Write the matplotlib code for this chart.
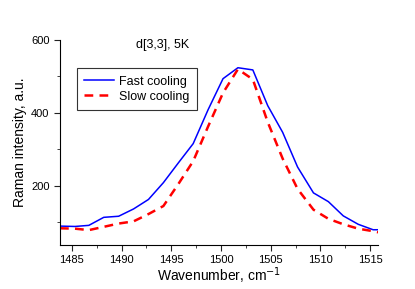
import numpy as np
import matplotlib.pyplot as plt
from matplotlib.ticker import MultipleLocator

plt.rcParams['font.family'] = ['Liberation Sans', 'DejaVu Sans']

# donnees
wavenumber = [1483.8, 1485.3, 1486.7, 1488.2, 1489.7, 1491.2, 1492.7, 1494.2,
              1495.7, 1497.2, 1498.7, 1500.2, 1501.7, 1503.2, 1504.7, 1506.2,
              1507.7, 1509.3, 1510.8, 1512.3, 1513.8, 1515.3, 1515.8]
fast_cooling = [90, 89, 92, 114, 117, 137, 163, 209, 263, 316, 409, 494, 524,
                518, 420, 347, 252, 181, 157, 118, 95, 80, 80]
slow_cooling = [84, 83, 79, 88, 97, 103, 123, 145, 205, 268, 363, 455, 520,
                492, 375, 275, 192, 135, 110, 95, 83, 76, 73]

fig = plt.figure(figsize=(4.15, 2.89), dpi=100)
ax = fig.add_axes([0.1446, 0.152, 0.7664, 0.7096])

ax.plot(wavenumber, fast_cooling, color='#0000ff', lw=1.1, label='Fast cooling')
ax.plot(wavenumber, slow_cooling, color='#ff0000', lw=1.8, ls=(0, (3.5, 2.5)),
        label='Slow cooling')

ax.set_xlim(1483.8, 1515.8)
ax.set_ylim(38, 600)
ax.xaxis.set_major_locator(MultipleLocator(5))
ax.xaxis.set_minor_locator(MultipleLocator(2.5))
ax.yaxis.set_major_locator(MultipleLocator(200))
ax.yaxis.set_minor_locator(MultipleLocator(100))
ax.tick_params(which='both', direction='out', labelsize=8, color='#222222')
ax.tick_params(which='major', length=4)
ax.tick_params(which='minor', length=2.5)
ax.spines['top'].set_visible(False)
ax.spines['right'].set_visible(False)
ax.set_yticks([200, 400, 600])

ax.set_xlabel('Wavenumber, cm$^{-1}$', fontsize=10, labelpad=0)
ax.set_ylabel('Raman intensity, a.u.', fontsize=10, labelpad=3)
ax.text(1494.1, 586, 'd[3,3], 5K', fontsize=9, ha='center', va='center')

leg = ax.legend(loc='upper left', bbox_to_anchor=(0.053, 0.863), fontsize=9,
                fancybox=False, framealpha=1, edgecolor='#333333',
                borderaxespad=0, handlelength=2.4, handletextpad=0.4,
                borderpad=0.6, labelspacing=0.25)
leg.get_frame().set_linewidth(0.8)

fig.savefig('out.png', dpi=100)
